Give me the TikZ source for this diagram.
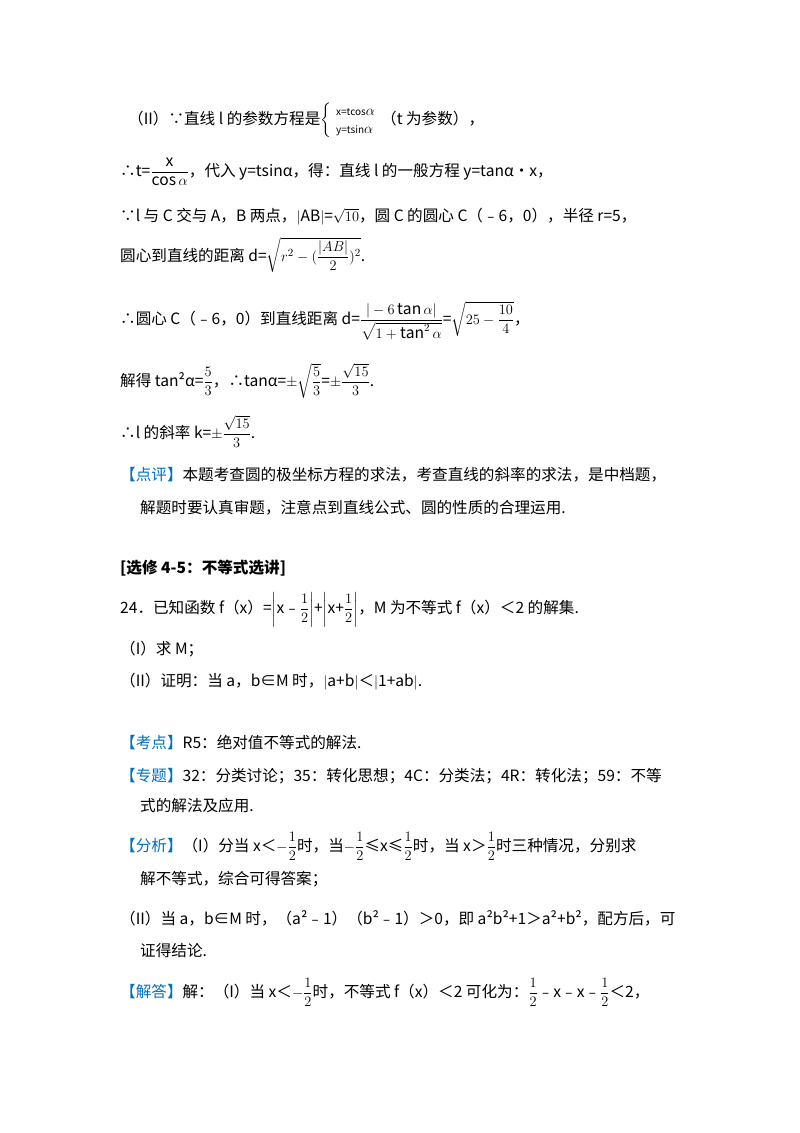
\documentclass[tikz,border=0pt]{standalone}
\usepackage{fontspec}
\usepackage{amsmath}
\setmainfont{Noto Sans CJK SC}
\definecolor{kblue}{RGB}{0,112,192}
\begin{document}
\begin{tikzpicture}[x=1pt,y=-1pt,every node/.style={anchor=base west,inner sep=0pt,font=\fontsize{15.6}{18}\selectfont}]
\useasboundingbox (0,0) rectangle (800,1133);
\newcommand\kb[1]{\textcolor{kblue}{#1}}
\node (l1) at (128,124) {（II）∵直线 l 的参数方程是$\left\{\begin{array}{l}\text{\normalsize x=tcos}\alpha\\ \text{\normalsize y=tsin}\alpha\end{array}\right.$（t 为参数），};
\node (l2) at (120,176) {∴t=$\dfrac{\text{x}}{\cos\alpha}$，代入 y=tsinα，得：直线 l 的一般方程 y=tanα•x，};
\node (l3) at (120,221) {∵l 与 C 交与 A，B 两点，$|$AB$|$=$\sqrt{10}$，圆 C 的圆心 C（﹣6，0），半径 r=5，};
\node (l4) at (120,261) {圆心到直线的距离 d=$\sqrt{r^2-(\dfrac{|AB|}{2})^2}$.};
\node (l5) at (120,324) {∴圆心 C（﹣6，0）到直线距离 d=$\dfrac{|-6\tan\alpha|}{\sqrt{1+\tan^2\alpha}}$=$\sqrt{25-\dfrac{10}{4}}$，};
\node (l6) at (120,386) {解得 tan²α=$\dfrac{5}{3}$，∴tanα=$\pm\sqrt{\dfrac{5}{3}}$=$\pm\dfrac{\sqrt{15}}{3}$.};
\node (l7) at (120,438) {∴l 的斜率 k=$\pm\dfrac{\sqrt{15}}{3}$.};
\node (l8) at (120,480) {\kb{【点评】}本题考查圆的极坐标方程的求法，考查直线的斜率的求法，是中档题，};
\node (l9) at (140,513) {解题时要认真审题，注意点到直线公式、圆的性质的合理运用.};
\node (l10) at (120,573) {\textbf{[选修 4-5：不等式选讲]}};
\node (l11) at (120,613) {24．已知函数 f（x）=$\left|\text{x﹣}\dfrac{1}{2}\right|$+$\left|\text{x+}\dfrac{1}{2}\right|$，M 为不等式 f（x）＜2 的解集.};
\node (l12) at (120,654) {（I）求 M；};
\node (l13) at (120,686) {（II）证明：当 a，b∈M 时，$|$a+b$|$＜$|$1+ab$|$.};
\node (l14) at (120,748) {\kb{【考点】}R5：绝对值不等式的解法.};
\node (l15) at (120,781) {\kb{【专题】}32：分类讨论；35：转化思想；4C：分类法；4R：转化法；59：不等};
\node (l16) at (140,811) {式的解法及应用.};
\node (l17) at (120,851) {\kb{【分析】}（I）分当 x＜$-\dfrac{1}{2}$时，当$-\dfrac{1}{2}$≤x≤$\dfrac{1}{2}$时，当 x＞$\dfrac{1}{2}$时三种情况，分别求};
\node (l18) at (140,884) {解不等式，综合可得答案；};
\node (l19) at (120,924) {（II）当 a，b∈M 时，（a²﹣1）（b²﹣1）＞0，即 a²b²+1＞a²+b²，配方后，可};
\node (l20) at (140,956) {证得结论.};
\node (l21) at (120,997) {\kb{【解答】}解：（I）当 x＜$-\dfrac{1}{2}$时，不等式 f（x）＜2 可化为：$\dfrac{1}{2}$﹣x﹣x﹣$\dfrac{1}{2}$＜2，};
\end{tikzpicture}
\end{document}
